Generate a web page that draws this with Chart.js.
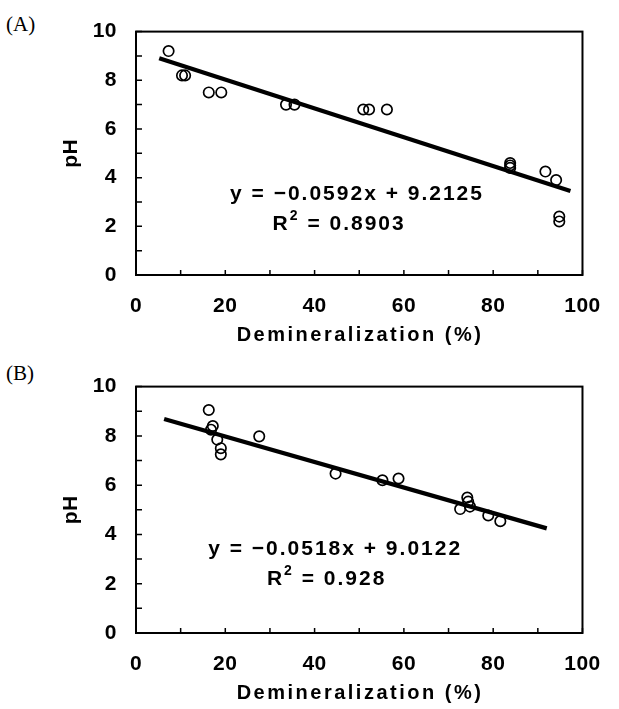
<!DOCTYPE html>
<html>
<head>
<meta charset="utf-8">
<script src="https://cdn.jsdelivr.net/npm/chart.js@4.4.1/dist/chart.umd.min.js"></script>
<style>
  body { margin: 0; background: #fff; width: 619px; height: 709px; position: relative; overflow: hidden; }
  canvas { position: absolute; left: 0; }
  .tag { position: absolute; left: 6px; font: 21px "Liberation Serif", serif; color: #000; }
</style>
</head>
<body>
<div class="tag" style="top:12px">(A)</div>
<div class="tag" style="top:361px">(B)</div>
<canvas id="chartA" width="619" height="355" style="top:0"></canvas>
<canvas id="chartB" width="619" height="354" style="top:355px"></canvas>
<script>
// panel A data
var demA = [7.3, 10.3, 11.0, 16.3, 19.1, 33.6, 35.5, 50.9, 52.2, 56.2, 83.8, 83.8, 83.8, 91.7, 94.1, 94.8, 94.8];
var phA  = [9.2, 8.2, 8.2, 7.5, 7.5, 7.0, 7.0, 6.8, 6.8, 6.8, 4.6, 4.5, 4.4, 4.25, 3.9, 2.4, 2.2];
var slopeA = -0.0592, interceptA = 9.2125, r2A = "0.8903";
var fitRangeA = [5.2, 97.3];

// panel B data
var demB = [16.3, 16.8, 17.2, 18.2, 19.0, 19.0, 27.6, 44.7, 55.2, 58.8, 72.6, 74.2, 74.4, 74.8, 78.9, 81.6];
var phB  = [9.05, 8.25, 8.4, 7.85, 7.5, 7.25, 7.98, 6.47, 6.2, 6.27, 5.03, 5.5, 5.33, 5.13, 4.77, 4.54];
var slopeB = -0.0518, interceptB = 9.0122, r2B = "0.928";
var fitRangeB = [6.3, 92.0];

// axis ticks
var xTickLabels = [0, 20, 40, 60, 80, 100];
var yTickLabels = [0, 2, 4, 6, 8, 10];
var xTitle = "Demineralization (%)";

var FONT = "'Liberation Sans', Arial, sans-serif";

function eqText(slope, intercept) {
  return "y = " + slope.toFixed(4).replace("-", "\u2212") + "x + " + intercept.toFixed(4);
}

// box round the plot, inward tick marks, x title, the fit equation
var framePlugin = {
  id: "frame",
  beforeDraw: function(chart) {
    chart.ctx.letterSpacing = "0.5px";
  },
  afterDraw: function(chart) {
    var ctx = chart.ctx, a = chart.chartArea;
    var xs = chart.scales.x, ys = chart.scales.y;
    var opt = chart.options.plugins.frame;
    ctx.save();
    ctx.strokeStyle = "#000";
    ctx.lineWidth = 2;
    ctx.strokeRect(a.left, a.top, a.right - a.left, a.bottom - a.top);
    ctx.lineWidth = 1.5;
    ctx.beginPath();
    xs.ticks.forEach(function(t) {
      var px = xs.getPixelForValue(t.value);
      ctx.moveTo(px, a.bottom);
      ctx.lineTo(px, a.bottom - 5);
    });
    ys.ticks.forEach(function(t) {
      var py = ys.getPixelForValue(t.value);
      ctx.moveTo(a.left, py);
      ctx.lineTo(a.left + 6, py);
    });
    ctx.stroke();

    ctx.fillStyle = "#000";
    ctx.textBaseline = "middle";

    // x axis title
    ctx.letterSpacing = "2.5px";
    ctx.textAlign = "center";
    ctx.font = "bold 20px " + FONT;
    ctx.fillText(xTitle, opt.titleX, opt.titleY);

    // equation
    ctx.letterSpacing = "2px";
    ctx.textAlign = "left";
    ctx.font = "bold 21px " + FONT;
    var line1 = opt.text;
    var w1 = ctx.measureText(line1).width;
    ctx.fillText(line1, xs.getPixelForValue(opt.x1) - w1 / 2, ys.getPixelForValue(opt.y1));

    var rest = " = " + opt.r2;
    var wR = ctx.measureText("R").width;
    var wRest = ctx.measureText(rest).width;
    ctx.font = "bold 14px " + FONT;
    var wSup = ctx.measureText("2").width;
    var total = wR + wSup + wRest;
    var x0 = xs.getPixelForValue(opt.x2) - total / 2;
    var y2 = ys.getPixelForValue(opt.y2);
    ctx.font = "bold 21px " + FONT;
    ctx.fillText("R", x0, y2);
    ctx.font = "bold 14px " + FONT;
    ctx.fillText("2", x0 + wR, y2 - 8);
    ctx.font = "bold 21px " + FONT;
    ctx.fillText(rest, x0 + wR + wSup, y2);
    ctx.restore();
  }
};

function makeChart(id, dem, ph, slope, intercept, r2, range, lay) {
  var pts = [];
  for (var i = 0; i < dem.length; i++) {
    pts.push({ x: dem[i], y: ph[i] });
  }
  var fit = [
    { x: range[0], y: slope * range[0] + intercept },
    { x: range[1], y: slope * range[1] + intercept }
  ];
  var tickFont = { family: FONT, size: 21, weight: "bold" };

  return new Chart(document.getElementById(id), {
    type: "scatter",
    data: {
      datasets: [
        {
          label: "pH",
          data: pts,
          pointStyle: "circle",
          pointRadius: 5.2,
          borderWidth: 1.7,
          borderColor: "#000",
          backgroundColor: "rgba(0,0,0,0)"
        },
        {
          type: "line",
          label: "fit",
          data: fit,
          borderColor: "#000",
          borderWidth: 4.2,
          pointRadius: 0,
          fill: false
        }
      ]
    },
    options: {
      responsive: false,
      animation: false,
      devicePixelRatio: 1,
      layout: { padding: { top: lay.top, right: lay.right, left: 0, bottom: 0 } },
      plugins: {
        legend: { display: false },
        tooltip: { enabled: false },
        frame: {
          text: eqText(slope, intercept), r2: r2,
          x1: lay.eq[0], y1: lay.eq[1], x2: lay.eq[2], y2: lay.eq[3],
          titleX: lay.titleX, titleY: lay.titleY
        }
      },
      scales: {
        x: {
          type: "linear",
          min: 0,
          max: 100,
          grid: { display: false, drawTicks: false },
          border: { display: false },
          ticks: {
            stepSize: 10,
            autoSkip: false,
            maxRotation: 0,
            padding: 19,
            color: "#000",
            font: tickFont,
            callback: function(v) { return xTickLabels.indexOf(v) >= 0 ? String(v) : ""; }
          },
          afterFit: function(s) { s.height = lay.xHeight; }
        },
        y: {
          min: 0,
          max: 10,
          grid: { display: false, drawTicks: false },
          border: { display: false },
          ticks: {
            stepSize: 1,
            autoSkip: false,
            padding: 19,
            color: "#000",
            font: tickFont,
            callback: function(v) { return yTickLabels.indexOf(v) >= 0 ? String(v) : ""; }
          },
          title: {
            display: true,
            text: "pH",
            color: "#000",
            font: tickFont,
            padding: { top: 59, bottom: 0 }
          },
          afterFit: function(s) { s.width = 136; }
        }
      }
    },
    plugins: [framePlugin]
  });
}

makeChart("chartA", demA, phA, slopeA, interceptA, r2A, fitRangeA,
  { top: 23, right: 21, xHeight: 80, titleX: 360, titleY: 335, eq: [49.5, 3.33, 45.5, 2.1] });
makeChart("chartB", demB, phB, slopeB, interceptB, r2B, fitRangeB,
  { top: 27, right: 24, xHeight: 76, titleX: 360, titleY: 338, eq: [44.6, 3.39, 42.7, 2.19] });
</script>
</body>
</html>
